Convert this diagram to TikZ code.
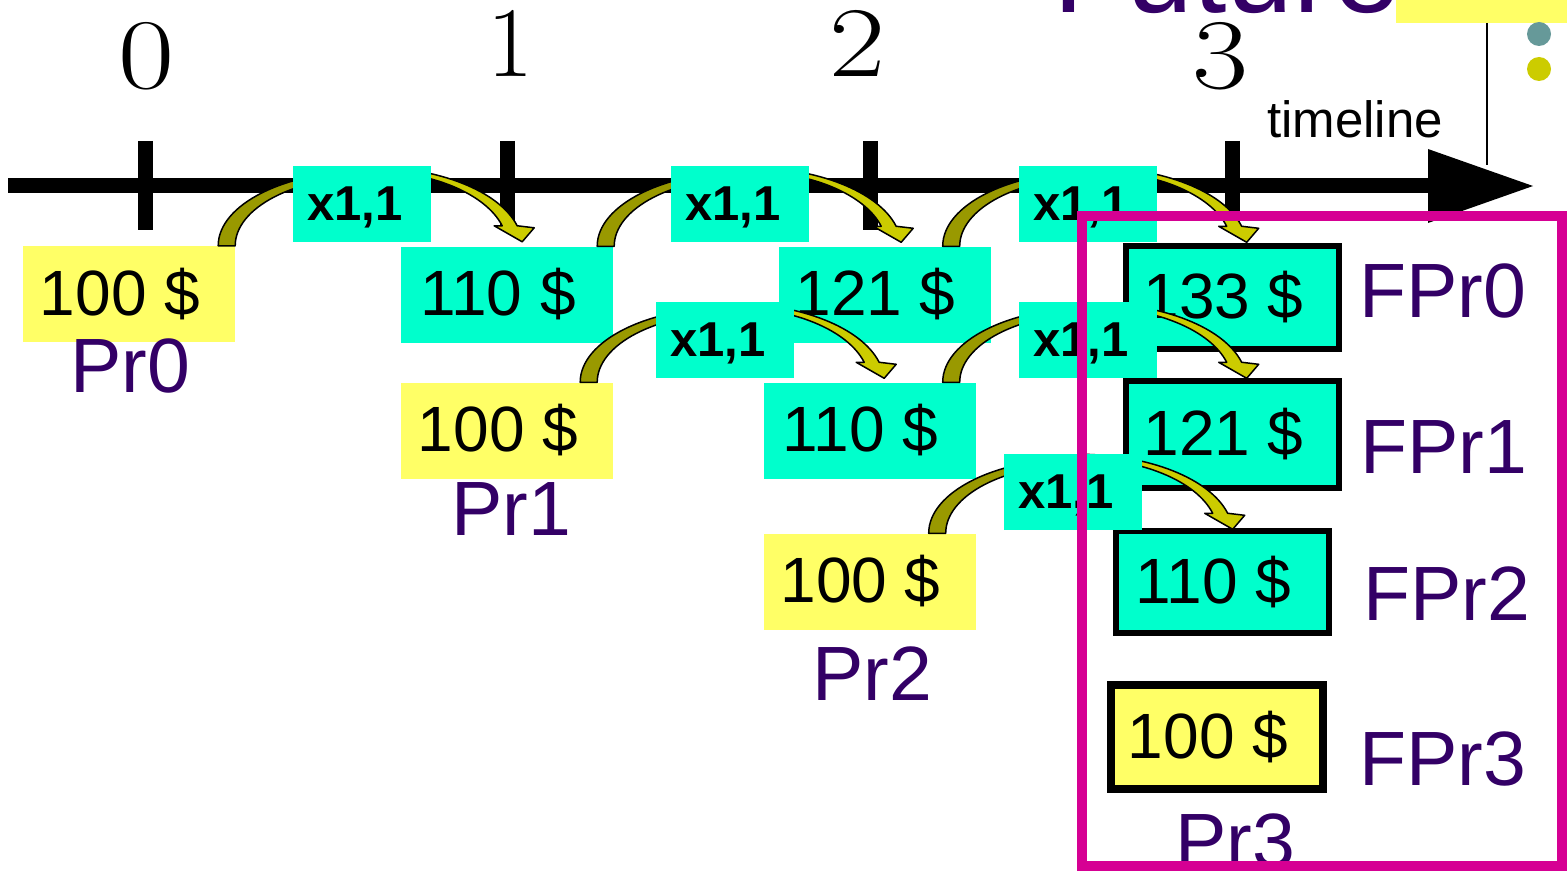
\documentclass[tikz,border=0pt]{standalone}
\usepackage{fontspec}
\newfontfamily\arial{Liberation Sans}
\usetikzlibrary{calc}

\definecolor{boxyellow}{RGB}{255,255,102}
\definecolor{boxcyan}{RGB}{0,255,204}
\definecolor{labelpurple}{RGB}{51,0,102}
\definecolor{framemagenta}{RGB}{214,0,147}
\definecolor{arrowdark}{RGB}{153,153,0}
\definecolor{arrowlight}{RGB}{204,204,0}
\definecolor{dotteal}{RGB}{102,153,153}

% wider period numbers
\newcommand\widedigit[1]{\scalebox{1.22}[1]{#1}}

% curved growth arrow, drawn from the foot coordinate #1
\newcommand\growtharrow[1]{%
  \begin{scope}[shift={(#1)}]
    \filldraw[arrowedge, fill=arrowdark]
      (0,0) arc[start angle=180, end angle=270, x radius=150, y radius=75]
      -- (150,-69) arc[start angle=270, end angle=180, x radius=133, y radius=69]
      -- cycle;
    \filldraw[arrowedge, fill=arrowlight]
      (150,-79) arc[start angle=270, end angle=345.3, x radius=154, y radius=79]
      -- (316,-18) -- (304,-4) -- (276,-20) -- (284,-20)
      arc[start angle=344.5, end angle=270, x radius=139, y radius=75]
      -- cycle;
  \end{scope}}

\begin{document}
\begin{tikzpicture}[x=1pt, y=-1pt,
  arrowedge/.style={draw=black, line width=1.5pt, line join=round},
  valbox/.style={rectangle, inner sep=0pt, text=black,
    font=\arial\fontsize{64}{70}\selectfont,
    execute at end node={\hspace*{.28em}}},
  ybox/.style={valbox, fill=boxyellow, minimum width=212pt, minimum height=96pt},
  cbox/.style={valbox, fill=boxcyan, minimum width=212pt, minimum height=96pt},
  framed/.style={draw=black, line width=6pt, minimum width=213pt},
  mulbox/.style={rectangle, inner sep=0pt, fill=boxcyan, text=black,
    minimum width=138pt, minimum height=76pt, text depth=0pt,
    font=\arial\bfseries\fontsize{49}{54}\selectfont,
    execute at end node={\hspace*{.28em}}},
  plabel/.style={anchor=base, inner sep=0pt, text=labelpurple,
    font=\arial\fontsize{77}{84}\selectfont},
  ticklabel/.style={anchor=base, inner sep=0pt, font=\fontsize{100}{110}\selectfont},
  tickmark/.style={line width=15pt}]

\useasboundingbox (0,0) rectangle (1567,872);
\clip (0,0) rectangle (1567,872);

% heading and bullet list at the top right
\fill[boxyellow] (1396,0) rectangle (1567,23);
\node[anchor=base west, inner sep=0pt, text=labelpurple,
  font=\arial\fontsize{120}{130}\selectfont] (future) at (1053,13) {Future};
\draw[line width=2pt] (1487,23) -- (1487,165);
\node[circle, fill=dotteal, minimum size=24pt, inner sep=0pt] (dot1) at (1539,34) {};
\node[circle, fill=arrowlight, minimum size=24pt, inner sep=0pt] (dot2) at (1539,69) {};

% timeline with period ticks
\coordinate (tlstart) at (8,186);
\coordinate (tlhead) at (1428,186);
\coordinate (tltip) at (1533,186);
\draw[line width=15pt] (tlstart) -- (tlhead);
\fill ($(tlhead)+(0,-37)$) -- (tltip) -- ($(tlhead)+(0,37)$) -- cycle;
\foreach \x in {145,507,870,1232}
  \draw[tickmark] (\x,141) -- (\x,230);
\node[ticklabel] (t0) at (146,89) {\widedigit{0}};
\node[ticklabel] (t1) at (510,77) {1};
\node[ticklabel] (t2) at (857,77) {\widedigit{2}};
\node[ticklabel] (t3) at (1220,89) {\widedigit{3}};
\node[anchor=base, inner sep=0pt, font=\arial\fontsize{51}{56}\selectfont]
  (tlname) at (1355,138) {timeline};

% values of each project
\node[ybox] (v00) at (129,294) {100 \$};
\node[cbox] (v01) at (507,294.5) {110 \$};
\node[cbox] (v02) at (884.5,294.5) {121 \$};
\node[cbox, framed, minimum height=103pt] (v03) at (1232.5,297.5) {133 \$};

\node[ybox] (v11) at (507,430.5) {100 \$};
\node[cbox] (v12) at (869.5,430.5) {110 \$};
\node[cbox, framed, minimum height=107pt] (v13) at (1232.5,434.5) {121 \$};

\node[ybox] (v22) at (869.5,581.5) {100 \$};
\node[cbox, framed, minimum height=102pt] (v23) at (1222.5,582) {110 \$};

\node[ybox, framed, line width=8pt, minimum width=212pt, minimum height=104pt]
  (v33) at (1217,737) {100 \$};

% growth arrows
\coordinate (a1) at ($(v00.north east)+(-17,0)$);
\coordinate (a2) at ($(v01.north east)+(-16,0)$);
\coordinate (a3) at ($(v02.north east)+(-48,0)$);
\coordinate (a4) at ($(v11.north east)+(-33,0)$);
\coordinate (a5) at ($(v12.north east)+(-33,0)$);
\coordinate (a6) at ($(v22.north east)+(-47,0)$);
\foreach \a in {a1,a2,a3,a4,a5,a6}
  \growtharrow{\a};

% growth factors
\node[mulbox] (m1) at (362,204) {x1,1};
\node[mulbox] (m2) at (740,204) {x1,1};
\node[mulbox] (m3) at (1088,204) {x1,1};
\node[mulbox] (m4) at (725,340) {x1,1};
\node[mulbox] (m5) at (1088,340) {x1,1};
\node[mulbox] (m6) at (1073,492) {x1,1};

% project names
\node[plabel] (p0) at (130,392) {Pr0};
\node[plabel] (p1) at (511,535) {Pr1};
\node[plabel] (p2) at (872,700) {Pr2};
\node[plabel] (p3) at (1235,867) {Pr3};
\node[plabel] (fp0) at (1443,317) {FPr0};
\node[plabel] (fp1) at (1444,473) {FPr1};
\node[plabel] (fp2) at (1447,620) {FPr2};
\node[plabel] (fp3) at (1443,785) {FPr3};

% future values frame
\draw[framemagenta, line width=10pt] (1082,216) rectangle (1562,866);
\end{tikzpicture}
\end{document}
